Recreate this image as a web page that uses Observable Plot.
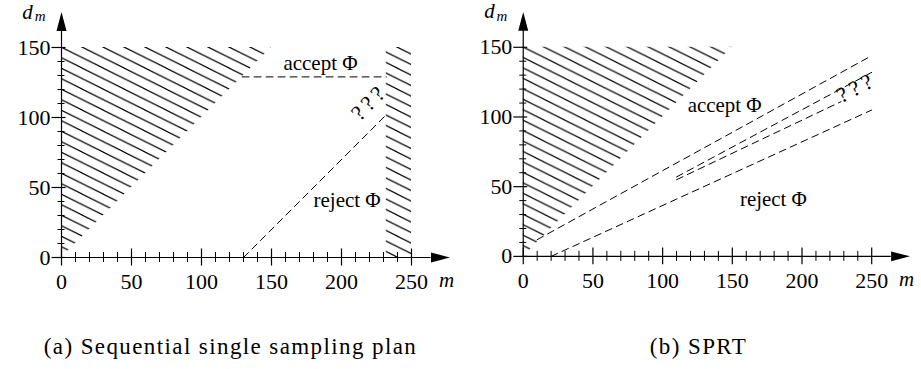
<!DOCTYPE html>
<html><head><meta charset="utf-8">
<script src="https://cdn.jsdelivr.net/npm/d3@7"></script>
<script src="https://cdn.jsdelivr.net/npm/@observablehq/plot@0.6"></script>
<style>
body{margin:0;background:#fff;width:921px;height:369px;position:relative;overflow:hidden;color:#000;}
.panel{position:absolute;top:0;}
.cap{position:absolute;top:334px;font-size:23px;letter-spacing:1.4px;white-space:nowrap;line-height:26px;font-family:"Liberation Serif","Times New Roman",Times,"DejaVu Serif",serif;}
.unk{letter-spacing:4px;}
</style></head><body>
<div id="pa" class="panel" style="left:0px"></div>
<div id="pb" class="panel" style="left:462px"></div>
<div class="cap" style="left:0px;width:461px;text-align:center;">(a) Sequential single sampling plan</div>
<div class="cap" style="left:468px;width:461px;text-align:center;">(b) SPRT</div>
<script>
// ---- shared axis data ----
const xMajor = [0, 50, 100, 150, 200, 250];
const xMinor = [10, 20, 30, 40, 60, 70, 80, 90, 110, 120, 130, 140, 160, 170, 180, 190, 210, 220, 230, 240];
const yMajor = [0, 50, 100, 150];
const yMinor = [10, 20, 30, 40, 60, 70, 80, 90, 110, 120, 130, 140];
const xAxisLine = [{m1: 0, m2: 264}];
const yAxisLine = [{d1: 0, d2: 162}];
const yArrow = [{m: 0, d: 168.6}];
const xArrow = [{m: 270.7, d: 0}];
const yTitle = [{m: -24.3, d: 175.5, text: "d"}];
const yTitleSub = [{m: -15.3, d: 172.3, text: "m"}];
const xTitle = [{m: 275, d: -16.4, text: "m"}];

// ---- panel (a): sequential single sampling plan ----
const aHatchUpper = [{m: 0, lo: 0, hi: 150}, {m: 150, lo: 150, hi: 150}];
const aHatchRight = [{m: 232, lo: 0, hi: 150}, {m: 250, lo: 0, hi: 150}];
const aAcceptLine = [{m: 129, d: 129}, {m: 232, d: 129}];
const aRejectLine = [{m: 130, d: 0}, {m: 232, d: 102}];
const aLabels = [{m: 185, d: 139, text: "accept Φ"}, {m: 204, d: 41, text: "reject Φ"}];
const aUnknown = [{m: 220, d: 111, text: "???"}];

// ---- panel (b): SPRT ----
const bHatchUpper = [{m: 0, lo: 0, hi: 150}, {m: 150, lo: 150, hi: 150}];
const bUpperLine = [{m: 10, d: 12}, {m: 250, d: 144}];
const bMidLineA = [{m: 110, d: 57}, {m: 250, d: 132}];
const bMidLineB = [{m: 110, d: 55}, {m: 228, d: 111}];
const bLowerLine = [{m: 20, d: 0}, {m: 250, d: 105}];
const bLabels = [{m: 144.5, d: 108.6, text: "accept Φ"}, {m: 179.5, d: 40.7, text: "reject Φ"}];
const bUnknown = [{m: 239, d: 121, text: "???"}];

const FONT = "'Liberation Serif', 'Times New Roman', Times, 'DejaVu Serif', serif";
const arrowHead = {
  draw(ctx) { ctx.moveTo(0, -9.5); ctx.lineTo(5, 9.5); ctx.lineTo(-5, 9.5); ctx.closePath(); }
};

function panel(pid, hatches, dashes, labels, unknown, unknownAngle) {
  const patId = "hatch-" + pid;
  const svg = Plot.plot({
    width: 461, height: 318,
    marginLeft: 61, marginRight: 50, marginTop: 47, marginBottom: 61,
    x: {domain: [0, 250], axis: null},
    y: {domain: [0, 150], axis: null},
    style: {fontFamily: FONT, fontSize: "22px", color: "black", background: "transparent", overflow: "visible"},
    marks: [
      ...hatches.map(h => Plot.area(h, {x1: "m", y1: "lo", y2: "hi", fill: `url(#${patId})`})),
      ...dashes.map(l => Plot.line(l, {x: "m", y: "d", stroke: "black", strokeWidth: 1, strokeDasharray: "7,5"})),
      Plot.ruleY(xAxisLine, {y: 0, x1: "m1", x2: "m2", stroke: "black", strokeWidth: 1.2}),
      Plot.ruleX(yAxisLine, {x: 0, y1: "d1", y2: "d2", stroke: "black", strokeWidth: 1.2}),
      Plot.dot(yArrow, {x: "m", y: "d", symbol: arrowHead, fill: "black", stroke: "none", r: 5}),
      Plot.dot(xArrow, {x: "m", y: "d", symbol: arrowHead, fill: "black", stroke: "none", r: 5, rotate: 90}),
      Plot.axisX(xMajor, {anchor: "bottom", tickSize: 17, dy: -8.5, tickFormat: () => "", label: null, strokeWidth: 1.2}),
      Plot.axisX(xMinor, {anchor: "bottom", tickSize: 10, dy: -5, tickFormat: () => "", label: null}),
      Plot.axisX(xMajor, {anchor: "bottom", tickSize: 0, tickPadding: 16, label: null, fontSize: 22, fontFamily: FONT}),
      Plot.axisY(yMajor, {anchor: "left", tickSize: 14, dx: 4.5, tickFormat: () => "", label: null, strokeWidth: 1.2}),
      Plot.axisY(yMinor, {anchor: "left", tickSize: 7, dx: 3.5, tickFormat: () => "", label: null}),
      Plot.axisY(yMajor, {anchor: "left", tickSize: 0, tickPadding: 11, label: null, fontSize: 22, fontFamily: FONT}),
      Plot.text(yTitle, {x: "m", y: "d", text: "text", fontSize: 21, fontStyle: "italic", fontFamily: FONT}),
      Plot.text(yTitleSub, {x: "m", y: "d", text: "text", fontSize: 15, fontStyle: "italic", fontFamily: FONT}),
      Plot.text(xTitle, {x: "m", y: "d", text: "text", fontSize: 21, fontStyle: "italic", fontFamily: FONT}),
      Plot.text(labels, {x: "m", y: "d", text: "text", fontSize: 21, fontFamily: FONT, fill: "black"}),
      Plot.text(unknown, {x: "m", y: "d", text: "text", fontSize: 22, fontFamily: FONT, rotate: unknownAngle, fill: "black", className: "unk"})
    ]
  });
  const defs = document.createElementNS("http://www.w3.org/2000/svg", "defs");
  defs.innerHTML = `<pattern id="${patId}" patternUnits="userSpaceOnUse" x="61" y="47" width="21" height="10.5">
    <path d="M-6,-3 L27,13.5 M-6,-13.5 L27,3 M-6,7.5 L27,24" stroke="black" stroke-width="1.2" fill="none"/></pattern>`;
  svg.insertBefore(defs, svg.firstChild);
  svg.querySelectorAll("g.unk text, .unk text, text.unk").forEach(t => t.style.letterSpacing = "4px");
  document.getElementById(pid).appendChild(svg);
}

panel("pa", [aHatchUpper, aHatchRight], [aAcceptLine, aRejectLine], aLabels, aUnknown, -45);
panel("pb", [bHatchUpper], [bUpperLine, bMidLineA, bMidLineB, bLowerLine], bLabels, bUnknown, -27);
</script>
</body></html>
